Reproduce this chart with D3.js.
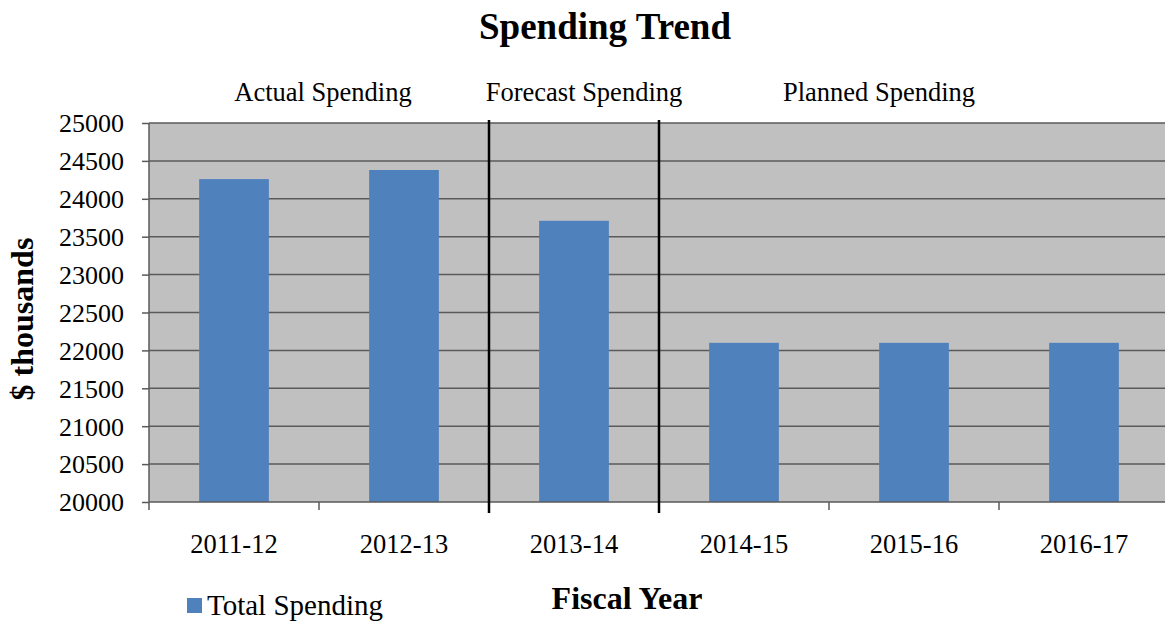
<!DOCTYPE html>
<html><head><meta charset="utf-8">
<script src="https://cdn.jsdelivr.net/npm/d3@7"></script>
<style>body{margin:0;background:#fff}svg{display:block}text{font-family:"Liberation Serif","Times New Roman",serif}</style>
</head><body>
<script>
const categories = ["2011-12","2012-13","2013-14","2014-15","2015-16","2016-17"];
const totalSpending = [24260, 24380, 23710, 22100, 22100, 22100];
const yTicks = [20000,20500,21000,21500,22000,22500,23000,23500,24000,24500,25000];
const sections = [
  {label:"Actual Spending", cx:323},
  {label:"Forecast Spending", cx:584},
  {label:"Planned Spending", cx:879}
];
const dividersAfter = ["2012-13","2013-14"];

const W=1165,H=622;
const m={left:149,top:123,right:1169,bottom:502};
const svg=d3.select("body").append("svg").attr("width",W).attr("height",H);

const x=d3.scaleBand().domain(categories).range([m.left,m.right]).paddingInner(0.59).paddingOuter(0.295);
const xb=d3.scaleBand().domain(categories).range([m.left,m.right]);
const y=d3.scaleLinear().domain([20000,25000]).range([m.bottom,m.top]);

svg.append("rect").attr("x",m.left).attr("y",m.top).attr("width",m.right-m.left).attr("height",m.bottom-m.top).attr("fill","#c0c0c0");

// gridlines
svg.append("g").selectAll("line").data(yTicks.slice(1)).join("line")
  .attr("x1",m.left).attr("x2",m.right).attr("y1",d=>y(d)).attr("y2",d=>y(d))
  .attr("stroke","#5a5a5a").attr("stroke-width",1.5);

// bars
svg.append("g").selectAll("rect").data(categories).join("rect")
  .attr("x",d=>x(d)).attr("width",x.bandwidth())
  .attr("y",(d,i)=>y(totalSpending[i])).attr("height",(d,i)=>y(20000)-y(totalSpending[i]))
  .attr("fill","#4f81bd");

// y axis
const ya=svg.append("g").attr("transform",`translate(${m.left},0)`)
  .call(d3.axisLeft(y).tickValues(yTicks).tickFormat(d3.format("d")).tickSize(7).tickPadding(18));
ya.select(".domain").attr("stroke","#5a5a5a").attr("stroke-width",1.5).attr("d",`M0,${m.top}V${m.bottom}`);
ya.selectAll(".tick line").attr("stroke","#5a5a5a").attr("stroke-width",1.5);
ya.selectAll(".tick text").attr("font-size",26).attr("fill","#000").attr("font-family","Liberation Serif").attr("dy","0.34em");

// x axis
const xa=svg.append("g").attr("transform",`translate(0,${m.bottom})`);
xa.append("line").attr("x1",m.left).attr("x2",m.right).attr("stroke","#5a5a5a").attr("stroke-width",1.5);
const bounds=categories.map(c=>xb(c)).concat([xb(categories[categories.length-1])+xb.bandwidth()]);
xa.selectAll("line.tk").data(bounds).join("line").attr("class","tk")
  .attr("x1",d=>d).attr("x2",d=>d).attr("y1",0).attr("y2",8).attr("stroke","#5a5a5a").attr("stroke-width",1.5);
xa.selectAll("text").data(categories).join("text")
  .attr("x",d=>xb(d)+xb.bandwidth()/2).attr("y",51).attr("text-anchor","middle")
  .attr("font-size",26.5).text(d=>d);

// dividers
svg.append("g").selectAll("line").data(dividersAfter).join("line")
  .attr("x1",d=>xb(d)+xb.bandwidth()).attr("x2",d=>xb(d)+xb.bandwidth())
  .attr("y1",120).attr("y2",513).attr("stroke","#000").attr("stroke-width",2.5);

// section labels
svg.append("g").selectAll("text").data(sections).join("text")
  .attr("x",d=>d.cx).attr("y",101).attr("text-anchor","middle").attr("font-size",26.5).text(d=>d.label);

// title
svg.append("text").attr("x",605).attr("y",39).attr("text-anchor","middle").attr("font-size",37).attr("font-weight","bold").text("Spending Trend");
// y title
svg.append("text").attr("transform","translate(33,319) rotate(-90)").attr("text-anchor","middle").attr("font-size",32).attr("font-weight","bold").text("$ thousands");
// x title
svg.append("text").attr("x",627).attr("y",609).attr("text-anchor","middle").attr("font-size",32).attr("font-weight","bold").text("Fiscal Year");
// legend
svg.append("rect").attr("x",187).attr("y",598).attr("width",15).attr("height",15).attr("fill","#4f81bd");
svg.append("text").attr("x",207).attr("y",615).attr("font-size",29).text("Total Spending");
</script>
</body></html>
